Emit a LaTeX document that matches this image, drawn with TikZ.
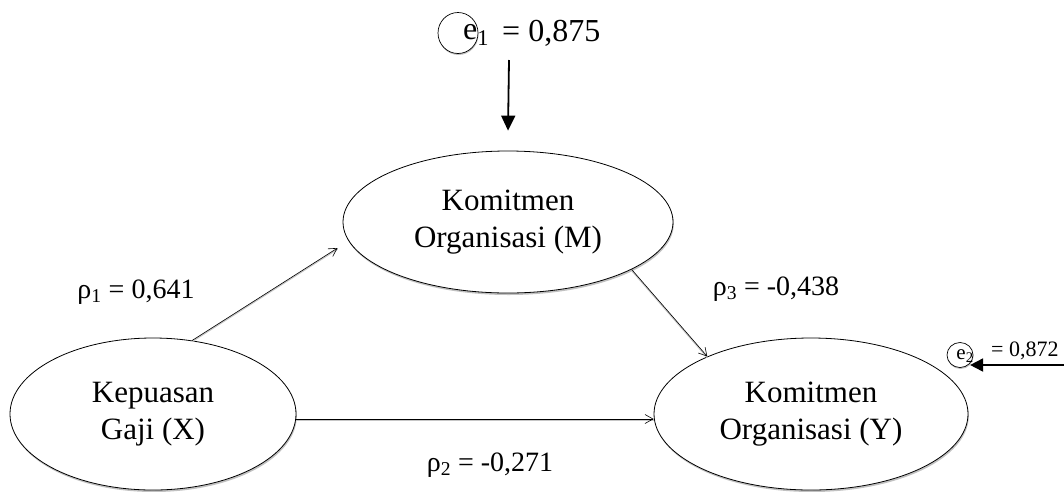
\documentclass[tikz,border=0pt]{standalone}
\usepackage{fontspec}
\setmainfont{Liberation Serif}
\usetikzlibrary{shapes.geometric,arrows.meta,shadows}
\begin{document}
\begin{tikzpicture}[x=1pt,y=-1pt,
  var/.style={ellipse,draw,line width=0.8pt,fill=white,inner sep=0pt,align=center,
    font=\fontsize{31}{37}\selectfont,
    drop shadow={shadow xshift=0.8pt,shadow yshift=-2pt,fill=gray!60,opacity=0.8}},
  err/.style={ellipse,draw,line width=0.7pt,fill=white,inner sep=0pt,
    drop shadow={shadow xshift=0.5pt,shadow yshift=-1.5pt,fill=gray!60,opacity=0.8}},
  lbl/.style={font=\fontsize{28}{32}\selectfont,inner sep=0pt},
  path/.style={line width=0.6pt,-{Straight Barb[length=8pt,width=9pt,line width=0.6pt]},
    preaction={draw,gray!45,line width=1.4pt,transform canvas={yshift=-1pt},-}},
  errarrow/.style={line width=1.8pt,-{Triangle[length=15pt,width=14pt]}}
]
\useasboundingbox (0,0) rectangle (1064,491);
% main variables
\node[var,minimum width=330pt,minimum height=142pt] (M) at (508,222) {Komitmen\\Organisasi (M)};
\node[var,minimum width=286pt,minimum height=152pt] (X) at (153,414) {Kepuasan\\Gaji (X)};
\node[var,minimum width=314pt,minimum height=152pt] (Y) at (811,414) {Komitmen\\Organisasi (Y)};
% paths
\draw[path] (X.62) -- ([shift={(-5,26)}]M.west);
\draw[path] (X.-2) -- (X.-2 -| Y.west);
\draw[path] (M.-21) -- (Y.151);
% labels
\node[lbl] (p1) at (136,292) {ρ\textsubscript{1} = 0,641};
\node[lbl] (p2) at (490,465) {ρ\textsubscript{2} = -0,271};
\node[lbl] (p3) at (776,289) {ρ\textsubscript{3} = -0,438};
% error e1
\node[err,minimum width=40pt,minimum height=41pt] (e1) at (458,33) {};
\node[inner sep=0pt,font=\fontsize{32}{34}\selectfont] (e1t) at (476,35) {e\textsubscript{1}};
\node[inner sep=0pt,anchor=west,font=\fontsize{32}{34}\selectfont] (e1v) at (502,33) {= 0,875};
\coordinate (e1s) at (509,60);
\draw[errarrow] (e1s) -- ([yshift=20pt]M.north);
% error e2
\node[err,minimum width=26pt,minimum height=25pt] (e2) at (960,355) {};
\node[inner sep=0pt,font=\fontsize{21}{22}\selectfont] (e2t) at (965,356) {e\textsubscript{2}};
\node[inner sep=0pt,anchor=west,font=\fontsize{22}{23}\selectfont] (e2v) at (991,351) {= 0,872};
\coordinate (e2s) at (1064,365);
\draw[errarrow,-{Triangle[length=13pt,width=13pt]}] (e2s) -- (e2s -| e2.-40);
\end{tikzpicture}
\end{document}
